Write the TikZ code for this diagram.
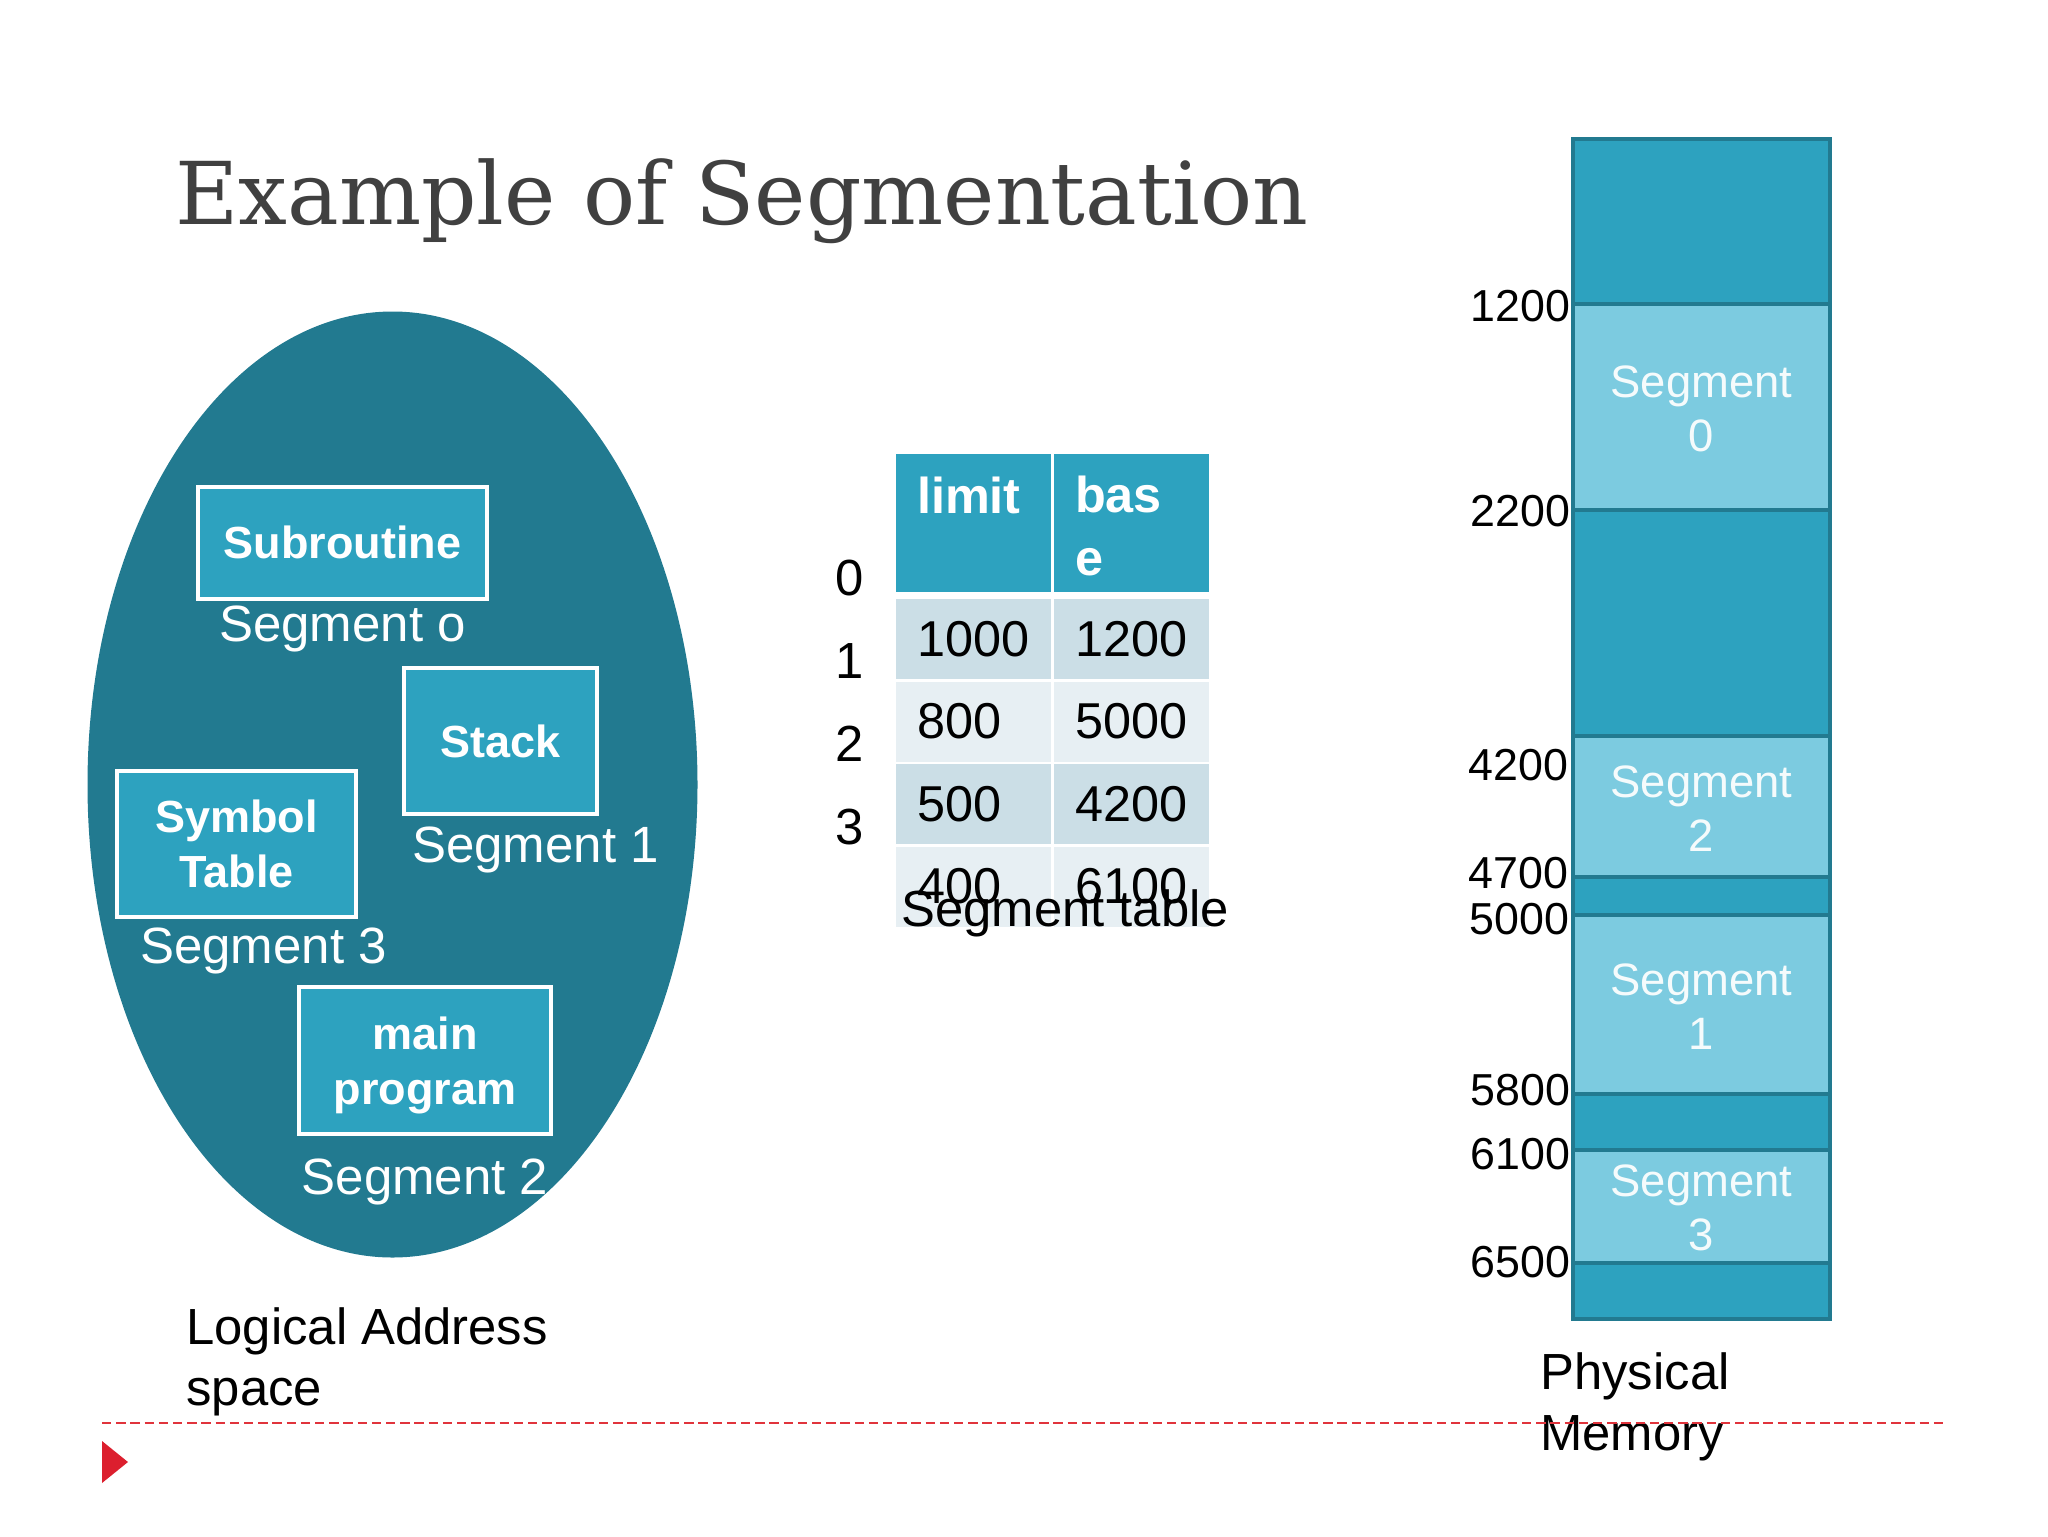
\documentclass[tikz,border=0pt]{standalone}
\usepackage{fontspec}
\setmainfont{Liberation Sans}
\newfontfamily\titlefont{DejaVu Serif}
\usetikzlibrary{shapes.geometric,positioning}
\definecolor{tealdark}{HTML}{227A90}
\definecolor{tealmid}{HTML}{2DA2BF}
\definecolor{teallight}{HTML}{7CCBE0}
\definecolor{rowdark}{HTML}{CBDEE6}
\definecolor{rowlight}{HTML}{E7EFF3}
\definecolor{slidered}{HTML}{DC1F2E}
\definecolor{rulered}{HTML}{E0343C}
\newcommand{\seglines}[1]{\rule{0pt}{17.6pt}Segment\\#1}
\tikzset{
  codebox/.style={draw=white, line width=2pt, fill=tealmid, text=white, rectangle, align=center, font=\fontsize{22.5}{27.5}\selectfont\bfseries, outer sep=0pt},
  seglabel/.style={text=white, inner sep=0pt, font=\fontsize{25.5}{31}\selectfont},
  plain/.style={inner sep=0pt, align=left, font=\fontsize{25.4}{30.7}\selectfont},
  headcell/.style={fill=tealmid, text=white, rectangle, align=left, text width=56.5pt, inner xsep=10.5pt, inner ysep=0pt, outer sep=0pt, minimum height=69pt, font=\fontsize{25.2}{31.3}\selectfont\bfseries},
  cell/.style={rectangle, align=left, text width=56.5pt, inner xsep=10.5pt, inner ysep=0pt, outer sep=0pt, minimum height=40pt, font=\fontsize{25.2}{30}\selectfont},
  memblock/.style={draw=tealdark, line width=2pt, rectangle, outer sep=0pt, minimum width=128.5pt, inner sep=0pt},
  memseg/.style={memblock, fill=teallight, text=white!92!teallight, align=center, font=\fontsize{22.7}{27}\selectfont},
  addr/.style={inner sep=0pt, font=\fontsize{22.4}{26}\selectfont},
}

\begin{document}
\begin{tikzpicture}[x=0.5pt, y=-0.5pt]
    \useasboundingbox (0,0) rectangle (2048,1536);

    \node (title) [anchor=base west, inner sep=0pt, text=black!75, font=\fontsize{43.35}{50}\selectfont\titlefont] at (175,224) {Example of Segmentation};

    % logical address space
    \node (space) [ellipse, fill=tealdark, minimum width=305pt, minimum height=473pt, inner sep=0pt] at (392.5,784.5) {};

    \node (subr) [codebox, minimum width=144.75pt, minimum height=56pt] at (342.5,542.5) {Subroutine};
    \node (stack) [codebox, minimum width=96.75pt, minimum height=73.25pt] at (500.5,741) {Stack};
    \node (symtab) [codebox, minimum width=119.75pt, minimum height=73.25pt] at (236.5,844) {Symbol\\Table};
    \node (mainprog) [codebox, minimum width=126.25pt, minimum height=73.75pt] at (425,1060.5) {main\\\smash{program}};

    \node (lab0) [seglabel, below=3.7pt of subr] {Segment o};
    \node (lab1) [seglabel, below=6.3pt of stack, xshift=17.5pt] {Segment 1};
    \node (lab3) [seglabel, below=5pt of symtab, xshift=13.5pt] {Segment 3};
    \node (lab2) [seglabel, below=12.2pt of mainprog] {Segment 2};

    \node (logical) [plain, anchor=north west] at (186,1307) {Logical Address\\space};

    % segment table
    \node (idx0) [plain] at (850,578) {0};
    \node (idx1) [plain, below=23.4pt of idx0] {1};
    \node (idx2) [plain, below=23.4pt of idx1] {2};
    \node (idx3) [plain, below=23.4pt of idx2] {3};

    \node (limit) [headcell, anchor=north west] at (896,454) {\rule{0pt}{21.5pt}limit\\~};
    \node (base) [headcell, right=1.5pt of limit] {\rule{0pt}{21.5pt}bas\\e};

    \node (lim1) [cell, fill=rowdark, below=3.5pt of limit] {1000};
    \node (bas1) [cell, fill=rowdark, right=1.5pt of lim1] {1200};
    \node (lim2) [cell, fill=rowlight, below=1.25pt of lim1] {800};
    \node (bas2) [cell, fill=rowlight, right=1.5pt of lim2] {5000};
    \node (lim3) [cell, fill=rowdark, below=1.25pt of lim2] {500};
    \node (bas3) [cell, fill=rowdark, right=1.5pt of lim3] {4200};
    \node (lim4) [cell, fill=rowlight, below=1.25pt of lim3] {400};
    \node (bas4) [cell, fill=rowlight, right=1.5pt of lim4] {6100};

    \node (segtable) [plain, anchor=base west] at (901,926) {Segment table};

    % physical memory
    \node (mem) [memblock, fill=tealmid, minimum height=590pt] at (1701.5,729) {};

    \node (seg0) [memseg, minimum height=103pt, below=82.5pt of mem.north] {\seglines{0}};
    \node (seg2) [memseg, minimum height=70.5pt, below=113pt of seg0] {\seglines{2}};
    \node (seg1) [memseg, minimum height=89.5pt, below=19pt of seg2] {\seglines{1}};
    \node (seg3) [memseg, minimum height=56.5pt, below=28pt of seg1] {\seglines{3}};

    \node (a1200) [addr, left=1pt of seg0.north west, yshift=-1pt] {1200};
    \node (a2200) [addr, left=1pt of seg0.south west, yshift=-0.5pt] {2200};
    \node (a4200) [addr, left=2pt of seg2.north west, yshift=-14.5pt] {4200};
    \node (a4700) [addr, left=2pt of seg2.south west, yshift=2pt] {4700};
    \node (a5000) [addr, left=1.5pt of seg1.north west, yshift=-2pt] {5000};
    \node (a5800) [addr, left=1pt of seg1.south west, yshift=2pt] {5800};
    \node (a6100) [addr, left=1pt of seg3.north west, yshift=-2pt] {6100};
    \node (a6500) [addr, left=1pt of seg3.south west, yshift=0.5pt] {6500};

    \node (physical) [plain, anchor=north west] at (1540,1352) {Physical\\Memory};

    % footer
    \coordinate (ruleL) at (102,1423);
    \coordinate (ruleR) at (1946,1423);
    \draw[rulered, line width=1.1pt, dash pattern=on 4.7pt off 2.4pt] (ruleL) -- (ruleR);
    \fill[slidered] (102,1441) -- (128,1462) -- (102,1483) -- cycle;

\end{tikzpicture}
\end{document}
